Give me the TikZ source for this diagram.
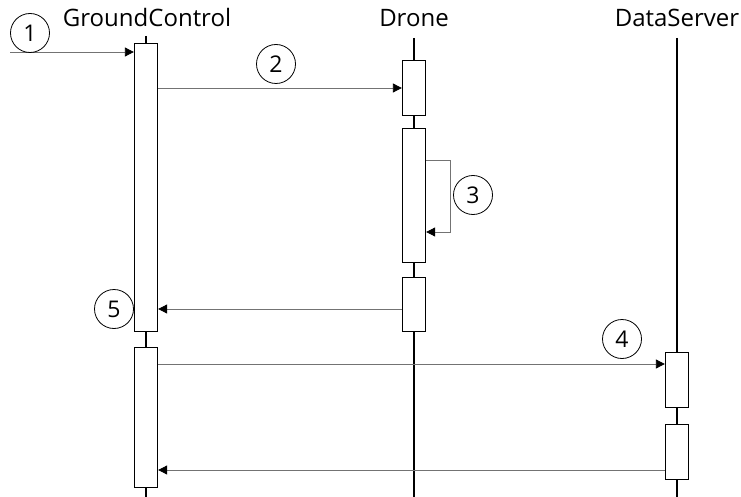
\documentclass[tikz,border=0pt]{standalone}
\usepackage{fontspec}
\setmainfont{Open Sans}
\usetikzlibrary{arrows.meta, positioning}

\begin{document}
\begin{tikzpicture}[
    x=1pt, y=-1pt,
    head/.style={font=\fontsize{24}{28}\selectfont, anchor=base},
    life/.style={line width=2.4pt},
    act/.style={draw, fill=white, line width=1.3pt, minimum width=23pt, inner sep=0pt, anchor=north},
    msg/.style={-{Triangle[length=9pt, width=9pt, color=black]}, draw=black!55, line width=0.8pt},
    num/.style={draw, circle, minimum size=39pt, inner sep=0pt, line width=0.8pt, font=\fontsize{23}{26}\selectfont}
  ]
  \useasboundingbox (0,0) rectangle (741,497);

  % Lifeline heads
  \node[head] (gc) at (147,27) {GroundControl};
  \node[head] (dr) at (414,27) {Drone};
  \node[head] (ds) at (677,27) {DataServer};

  % Lifelines
  \coordinate (gctop) at (146,36);  \coordinate (gcbot) at (146,497);
  \coordinate (drtop) at (414,38);  \coordinate (drbot) at (414,497);
  \coordinate (dstop) at (677,38);  \coordinate (dsbot) at (677,497);
  \draw[life] (gctop) -- (gcbot);
  \draw[life] (drtop) -- (drbot);
  \draw[life] (dstop) -- (dsbot);

  % Activations
  \node[act, minimum height=288pt] (gc1) at (146,43) {};
  \node[act, minimum height=140pt] (gc2) at (146,347) {};
  \node[act, minimum height=55pt] (d1) at (414,60) {};
  \node[act, minimum height=134pt] (d2) at (414,128) {};
  \node[act, minimum height=54pt] (d3) at (414,277) {};
  \node[act, minimum height=55pt] (s1) at (677,352) {};
  \node[act, minimum height=55pt] (s2) at (677,424) {};

  % Messages
  \coordinate (in) at (10,52);
  \draw[msg] (in) -- (gc1.west |- in);
  \draw[msg] (gc1.east |- 0,88) -- (d1.west |- 0,88);
  \draw[msg] (d2.east |- 0,160) -- ++(24,0) |- (d2.east |- 0,232);
  \draw[msg] (d3.west |- 0,309) -- (gc1.east |- 0,309);
  \draw[msg] (gc2.east |- 0,364) -- (s1.west |- 0,364);
  \draw[msg] (s2.west |- 0,470) -- (gc2.east |- 0,470);

  % Step numbers
  \node[num] (n1) at (30,33) {1};
  \node[num] (n2) at (276,64) {2};
  \node[num] (n3) at (473,195) {3};
  \node[num] (n4) at (622,339) {4};
  \node[num] (n5) at (114,309) {5};

\end{tikzpicture}
\end{document}
